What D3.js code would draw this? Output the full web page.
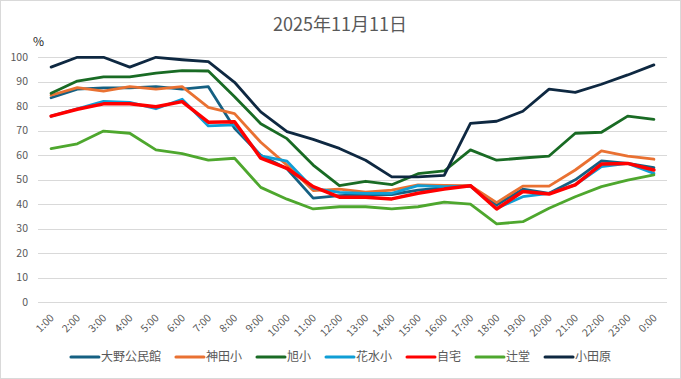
<!DOCTYPE html>
<html>
<head>
<meta charset="utf-8">
<script src="https://cdn.jsdelivr.net/npm/d3@7"></script>
<style>
  body { margin: 0; background: #fff; }
  text { font-family: "Noto Sans CJK JP", "Noto Sans", sans-serif; }
</style>
</head>
<body>
<script>
var width = 681;
var height = 379;

var title = "2025年11月11日";
var hours = ["1:00","2:00","3:00","4:00","5:00","6:00","7:00","8:00","9:00","10:00","11:00","12:00",
             "13:00","14:00","15:00","16:00","17:00","18:00","19:00","20:00","21:00","22:00","23:00","0:00"];
var yTicks = [0, 10, 20, 30, 40, 50, 60, 70, 80, 90, 100];

var names = ["大野公民館", "神田小", "旭小", "花水小", "自宅", "辻堂", "小田原"];
var colors = ["#156082", "#E97132", "#196B24", "#0F9ED5", "#FF0000", "#4EA72E", "#0E2841"];

var ono      = [83.5, 87, 87.5, 87.5, 88, 87, 88, 71, 60, 54.5, 42.5, 43.5, 44, 44, 45.8, 46.8, 47.5, 39.7, 46.2, 44.5, 50, 57.7, 56.7, 55];
var kanda    = [84.5, 87.6, 86.2, 88, 87, 88, 79.6, 77, 65.3, 56, 45.6, 46.2, 45, 45.8, 47.9, 47.7, 47.6, 40.7, 47.4, 47.4, 54, 61.8, 59.7, 58.4];
var asahi    = [85.3, 90.3, 92, 92, 93.5, 94.6, 94.4, 83.9, 72.9, 66.8, 56, 47.6, 49.4, 48, 52.5, 53.6, 62.2, 58, 58.9, 59.7, 69, 69.4, 76, 74.7];
var hanamizu = [76, 79, 82, 81.6, 79, 82.9, 72, 72.4, 59.8, 57.6, 46.5, 44.9, 44.5, 44.5, 47.6, 47.2, 47.4, 38.4, 43.1, 44.5, 47.9, 55.4, 56.7, 52.6];
var jitaku   = [76, 78.8, 81, 81, 79.8, 81.9, 73.5, 73.7, 58.8, 54.7, 47.2, 42.9, 42.9, 42.2, 44.5, 46.2, 47.6, 38.1, 45.2, 44.2, 47.9, 56.4, 56.7, 54];
var tsujido  = [62.7, 64.7, 69.9, 69, 62.2, 60.7, 58, 58.8, 46.9, 42.1, 38.1, 39, 39, 38.1, 39, 40.9, 40.1, 32, 32.9, 38.4, 43.1, 47.2, 49.9, 52];
var odawara  = [96, 100, 100, 96, 100, 99, 98.2, 89.8, 77.7, 69.7, 66.5, 62.8, 58, 51.2, 51.2, 51.8, 73, 73.9, 78, 87, 85.7, 89, 92.8, 96.9];

var series = [ono, kanda, asahi, hanamizu, jitaku, tsujido, odawara];

var svg = d3.select("body").append("svg")
    .attr("width", width)
    .attr("height", height);

// chart border
svg.append("rect")
    .attr("x", 0.5).attr("y", 0.5)
    .attr("width", width - 1).attr("height", height - 1)
    .attr("fill", "#fff")
    .attr("stroke", "#d9d9d9");

var x = d3.scaleBand().domain(hours).range([38, 667]);
var y = d3.scaleLinear().domain([0, 100]).range([302.3, 57.3]);

function cx(h) { return x(h) + x.bandwidth() / 2; }

// title
svg.append("text")
    .attr("x", 340).attr("y", 31)
    .attr("text-anchor", "middle")
    .attr("font-size", 18)
    .attr("fill", "#595959")
    .text(title);

svg.append("text")
    .attr("x", 33).attr("y", 46)
    .attr("font-size", 12)
    .attr("fill", "#262626")
    .text("%");

// gridlines
svg.append("g").selectAll("line")
    .data(yTicks)
  .enter().append("line")
    .attr("x1", 38).attr("x2", 667)
    .attr("y1", function(d) { return Math.round(y(d)) + 0.5; })
    .attr("y2", function(d) { return Math.round(y(d)) + 0.5; })
    .attr("stroke", "#d9d9d9");

// y axis labels
svg.append("g").selectAll("text")
    .data(yTicks)
  .enter().append("text")
    .attr("x", 28)
    .attr("y", function(d) { return y(d); })
    .attr("dy", "0.35em")
    .attr("text-anchor", "end")
    .attr("font-size", 10.5)
    .attr("fill", "#595959")
    .text(function(d) { return d; });

// x axis labels
svg.append("g").selectAll("text")
    .data(hours)
  .enter().append("text")
    .attr("transform", function(d) { return "translate(" + (cx(d) + 1) + ",316) rotate(-45)"; })
    .attr("dy", "0.35em")
    .attr("text-anchor", "end")
    .attr("font-size", 10.5)
    .attr("fill", "#595959")
    .text(function(d) { return d; });

// lines
var line = d3.line()
    .x(function(d, i) { return cx(hours[i]); })
    .y(function(d) { return y(d); });

svg.append("g").selectAll("path")
    .data(series)
  .enter().append("path")
    .attr("d", line)
    .attr("fill", "none")
    .attr("stroke", function(d, i) { return colors[i]; })
    .attr("stroke-width", function(d, i) { return i == 4 ? 3.5 : 2.8; })
    .attr("stroke-linejoin", "round")
    .attr("stroke-linecap", "round");

// legend
var legend = svg.append("g");
var lx = 0;
names.forEach(function(n, i) {
  var item = legend.append("g").attr("transform", "translate(" + lx + ",0)");
  item.append("line")
      .attr("x1", 0).attr("x2", 28)
      .attr("y1", 0).attr("y2", 0)
      .attr("stroke", colors[i])
      .attr("stroke-width", 3)
      .attr("stroke-linecap", "round");
  var t = item.append("text")
      .attr("x", 30).attr("y", 0)
      .attr("dy", "0.35em")
      .attr("font-size", 12)
      .attr("fill", "#595959")
      .text(n);
  lx += 30 + t.node().getComputedTextLength() + 15;
});
lx -= 15;
legend.attr("transform", "translate(" + (341 - lx / 2) + ",357)");
</script>
</body>
</html>
